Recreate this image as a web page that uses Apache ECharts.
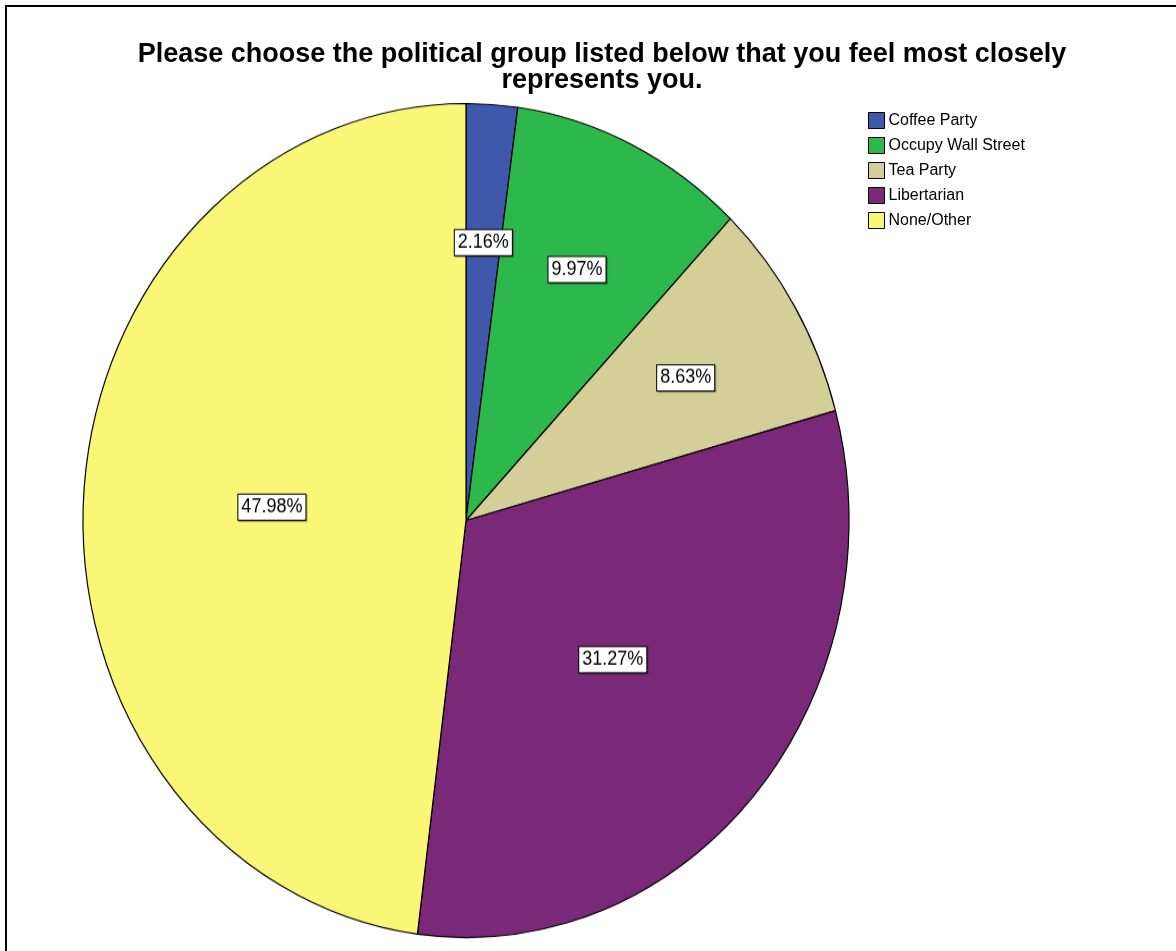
<!DOCTYPE html>
<html>
<head>
<meta charset="utf-8">
<script src="https://cdn.jsdelivr.net/npm/echarts@6/dist/echarts.min.js"></script>
<style>
  html, body { margin: 0; padding: 0; background: #fff; }
  #wrap { position: relative; width: 1176px; height: 951px; overflow: hidden; }
  #pie { position: absolute; left: 0; top: 0; width: 1176px; height: 951px;
         transform-origin: 466px 520.5px; transform: scaleY(1.0888); }
  #top { position: absolute; left: 0; top: 0; width: 1176px; height: 951px; }
</style>
</head>
<body>
<div id="wrap">
  <div id="pie"></div>
  <div id="top"></div>
</div>
<script>
const titleText = 'Please choose the political group listed below that you feel most closely\nrepresents you.';
const categories = ['Coffee Party', 'Occupy Wall Street', 'Tea Party', 'Libertarian', 'None/Other'];
const percents = [2.16, 9.97, 8.63, 31.27, 47.98];
const colors = ['#3E58AC', '#2DB84B', '#D4CE98', '#7A2878', '#FBF776'];

const FONT = '"Liberation Sans", Arial, sans-serif';
const R = 383;
const CENTER = [466, 520.5];

const labelStyle = {
  formatter: p => p.value.toFixed(2) + '%',
  position: 'inside',
  color: '#000',
  fontFamily: FONT,
  fontSize: 18,
  lineHeight: 18,
  backgroundColor: '#fff',
  borderColor: '#000',
  borderWidth: 1,
  padding: [3, 3, 2, 3],
  shadowColor: 'rgba(0,0,0,0.35)',
  shadowOffsetX: 1,
  shadowOffsetY: 1,
  shadowBlur: 1
};

const mainData = categories.map((n, i) => ({
  name: n, value: percents[i],
  itemStyle: { color: colors[i] },
  label: { show: i >= 3 }
}));
const outerLabelData = categories.map((n, i) => ({
  name: n, value: percents[i],
  label: { show: i < 3 }
}));

const pieChart = echarts.init(document.getElementById('pie'));
pieChart.setOption({
  animation: false,
  series: [
    {
      type: 'pie',
      center: CENTER,
      radius: [0, R],
      startAngle: 90,
      clockwise: true,
      avoidLabelOverlap: false,
      itemStyle: { borderColor: '#000', borderWidth: 1.2 },
      label: labelStyle,
      labelLine: { show: false },
      emphasis: { disabled: true },
      data: mainData
    },
    {
      type: 'pie',
      center: CENTER,
      radius: [R * 0.32, R],
      startAngle: 90,
      clockwise: true,
      silent: true,
      avoidLabelOverlap: false,
      itemStyle: { color: 'rgba(0,0,0,0)', borderWidth: 0 },
      label: labelStyle,
      labelLine: { show: false },
      emphasis: { disabled: true },
      data: outerLabelData
    }
  ]
});

const topChart = echarts.init(document.getElementById('top'));
topChart.setOption({
  animation: false,
  color: colors,
  title: {
    text: titleText,
    left: 597,
    textAlign: 'center',
    top: 37,
    textStyle: { fontFamily: FONT, fontSize: 27, fontWeight: 'bold', color: '#000', lineHeight: 26 }
  },
  legend: {
    orient: 'vertical',
    left: 868,
    top: 112,
    padding: 0,
    icon: 'rect',
    itemWidth: 16,
    itemHeight: 16,
    itemGap: 8,
    selectedMode: false,
    itemStyle: { borderColor: '#000', borderWidth: 1, opacity: 1 },
    textStyle: { fontFamily: FONT, fontSize: 16, color: '#000', padding: [0, 0, 0, -1] },
    data: categories
  },
  graphic: [{
    type: 'rect',
    shape: { x: 6, y: 6, width: 1400, height: 1400 },
    style: { fill: 'none', stroke: '#000', lineWidth: 2 },
    silent: true
  }],
  series: [{
    type: 'pie',
    center: [-500, -500],
    radius: [0, 1],
    silent: true,
    label: { show: false },
    labelLine: { show: false },
    itemStyle: { borderColor: '#000', borderWidth: 1 },
    data: categories.map((n, i) => ({ name: n, value: percents[i], itemStyle: { color: colors[i] } }))
  }]
});
</script>
</body>
</html>
